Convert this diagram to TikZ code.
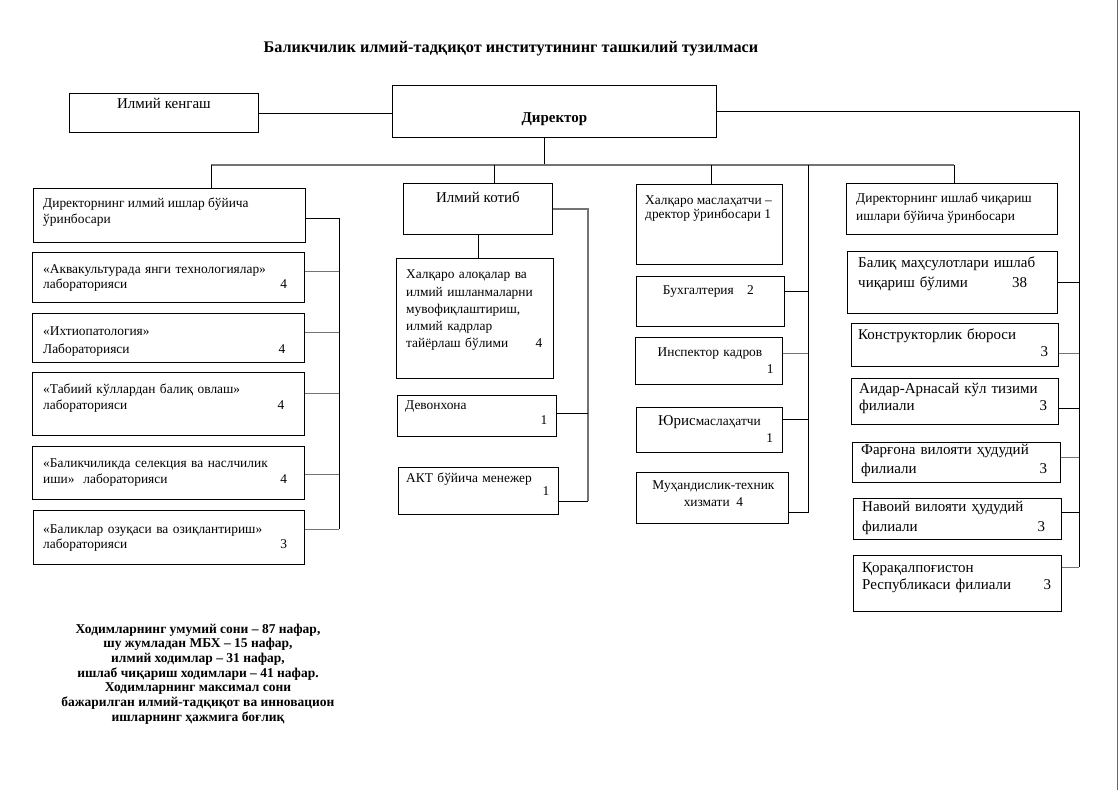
\documentclass[tikz,border=0pt]{standalone}
\usepackage{fontspec}
\setmainfont{Liberation Serif}
\begin{document}
\begin{tikzpicture}[x=1pt,y=-1pt,
    box/.style={draw, line width=0.9pt, inner sep=0pt, anchor=north west},
    txt/.style={anchor=north west, inner sep=0pt, align=left, font=\fontsize{13.4}{#1}\selectfont},
    txt/.default=16,
    rtxt/.style={txt, font=\fontsize{15}{#1}\selectfont},
    ctxt/.style={anchor=north, inner sep=0pt, align=center, font=\fontsize{13.4}{#1}\selectfont},
    ctxt/.default=17,
    link/.style={line width=0.9pt},
    glink/.style={line width=1.1pt, black!55}]
    \useasboundingbox (0,0) rectangle (1119,790);
    \draw[black!60, line width=0.8pt] (1117,0) -- (1117,790);

    % title
    \node[font=\fontsize{16.2}{19}\selectfont\bfseries] (title) at (511,49) {Баликчилик илмий-тадқиқот институтининг ташкилий тузилмаси};

    % top row
    \node[box, minimum width=189, minimum height=39] (ik) at (69,93) {};
    \node[ctxt, font=\fontsize{15}{18}\selectfont] (ik-t) at ([yshift=-5pt]ik.north) {Илмий кенгаш};
    \node[box, minimum width=324, minimum height=52] (dir) at (392,85) {};
    \node[font=\fontsize{15}{17}\selectfont\bfseries] (dir-t) at ([yshift=-8pt]dir.center) {Директор};

    % column 1
    \node[box, minimum width=272, minimum height=54] (d1) at (33,188) {};
    \node[txt] (d1-t) at ([shift={(10pt,-10pt)}]d1.north west) {Директорнинг илмий ишлар бўйича\\ўринбосари};
    \node[box, minimum width=272, minimum height=50] (lab1) at (32,252) {};
    \node[txt=15.5, text width=244] (lab1-t) at ([shift={(11pt,-12pt)}]lab1.north west) {«Аквакультурада янги технологиялар»\\лабораторияси\hfill 4};
    \node[box, minimum width=272, minimum height=49] (lab2) at (32,313) {};
    \node[txt=18, text width=242] (lab2-t) at ([shift={(11pt,-14pt)}]lab2.north west) {«Ихтиопатология»\\Лабораторияси\hfill 4};
    \node[box, minimum width=272, minimum height=63] (lab3) at (32,372) {};
    \node[txt=15.5, text width=241] (lab3-t) at ([shift={(11pt,-12pt)}]lab3.north west) {«Табиий кўллардан балиқ овлаш»\\лабораторияси\hfill 4};
    \node[box, minimum width=272, minimum height=53] (lab4) at (32,446) {};
    \node[txt=15.5, text width=244] (lab4-t) at ([shift={(11pt,-13pt)}]lab4.north west) {«Баликчиликда селекция ва наслчилик\\иши» \ лабораторияси\hfill 4};
    \node[box, minimum width=271, minimum height=54] (lab5) at (33,510) {};
    \node[txt=15, text width=244] (lab5-t) at ([shift={(10pt,-15pt)}]lab5.north west) {«Баликлар озуқаси ва озиқлантириш»\\лабораторияси\hfill 3};

    % column 2
    \node[box, minimum width=149, minimum height=51] (kotib) at (403,183) {};
    \node[ctxt, font=\fontsize{15}{18}\selectfont] (kotib-t) at ([yshift=-9pt]kotib.north) {Илмий котиб};
    \node[box, minimum width=157, minimum height=120] (ha) at (396,258) {};
    \node[txt=17.25, text width=136] (ha-t) at ([shift={(10pt,-12pt)}]ha.north west) {Халқаро алоқалар ва\\илмий ишланмаларни\\мувофиқлаштириш,\\илмий кадрлар\\тайёрлаш бўлими\hfill 4};
    \node[box, minimum width=159, minimum height=41] (dev) at (397,395) {};
    \node[txt=15, text width=142] (dev-t) at ([shift={(8pt,-6pt)}]dev.north west) {Девонхона\\\hfill 1};
    \node[box, minimum width=160, minimum height=47] (akt) at (398,467) {};
    \node[txt=13.5, text width=143] (akt-t) at ([shift={(8pt,-5.5pt)}]akt.north west) {АКТ бўйича менежер\\\hfill 1};

    % column 3
    \node[box, minimum width=146, minimum height=80] (hm) at (636,184) {};
    \node[txt=14] (hm-t) at ([shift={(9pt,-12pt)}]hm.north west) {Халқаро маслаҳатчи –\\дректор ўринбосари 1};
    \node[box, minimum width=148, minimum height=50] (bux) at (636,276) {};
    \node[ctxt] (bux-t) at ([shift={(-2pt,-9pt)}]bux.north) {Бухгалтерия\quad 2};
    \node[box, minimum width=147, minimum height=47] (insp) at (635,337) {};
    \node[ctxt, text width=127] (insp-t) at ([shift={(1pt,-11pt)}]insp.north) {Инспектор кадров\\\hfill 1};
    \node[box, minimum width=146, minimum height=45] (yur) at (636,407) {};
    \node[ctxt, text width=127] (yur-t) at ([shift={(0pt,-8pt)}]yur.north) {{\fontsize{15}{17}\selectfont Юрис}маслаҳатчи\\\hfill 1};
    \node[box, minimum width=152, minimum height=51] (muh) at (636,472) {};
    \node[ctxt] (muh-t) at ([shift={(1pt,-9pt)}]muh.north) {Муҳандислик-техник\\хизмати \ 4};

    % column 4
    \node[box, minimum width=211, minimum height=51] (d4) at (846,183) {};
    \node[txt=18] (d4-t) at ([shift={(10pt,-10pt)}]d4.north west) {Директорнинг ишлаб чиқариш\\ишлари бўйича ўринбосари};
    \node[box, minimum width=210, minimum height=62] (bm) at (847,251) {};
    \node[rtxt=20, text width=178] (bm-t) at ([shift={(11pt,-6pt)}]bm.north west) {Балиқ маҳсулотлари ишлаб\\чиқариш бўлими\hfill 38\rule{9pt}{0pt}};
    \node[box, minimum width=207, minimum height=43] (kb) at (851,323) {};
    \node[rtxt=17, text width=190] (kb-t) at ([shift={(7pt,-6pt)}]kb.north west) {Конструкторлик бюроси\\\hfill 3};
    \node[box, minimum width=207, minimum height=46] (aa) at (851,378) {};
    \node[rtxt=17, text width=188] (aa-t) at ([shift={(8pt,-5pt)}]aa.north west) {Аидар-Арнасай кўл тизими\\филиали\hfill 3};
    \node[box, minimum width=208, minimum height=40] (fv) at (852,442) {};
    \node[rtxt=19, text width=186] (fv-t) at ([shift={(9pt,-2pt)}]fv.north west) {Фарғона вилояти ҳудудий\\филиали\hfill 3};
    \node[box, minimum width=208, minimum height=41] (nv) at (853,498) {};
    \node[rtxt=20, text width=183] (nv-t) at ([shift={(9pt,-3.5pt)}]nv.north west) {Навоий вилояти ҳудудий\\филиали\hfill 3};
    \node[box, minimum width=208, minimum height=56] (qr) at (853,555) {};
    \node[rtxt=17, text width=189] (qr-t) at ([shift={(9pt,-7pt)}]qr.north west) {Қорақалпоғистон\\Республикаси филиали\hfill 3};

    % note
    \node[align=center, font=\fontsize{13.5}{14.7}\selectfont\bfseries] (note) at (198,674) {Ходимларнинг умумий сони – 87 нафар,\\шу жумладан МБХ – 15 нафар,\\илмий ходимлар – 31 нафар,\\ишлаб чиқариш ходимлари – 41 нафар.\\Ходимларнинг максимал сони\\бажарилган илмий-тадқиқот ва инновацион\\ишларнинг ҳажмига боғлиқ};

    % buses
    \coordinate (busL) at (211,165);
    \coordinate (busR) at (954,165);
    \coordinate (lbus) at (339,0);
    \coordinate (kbus) at (588,0);
    \coordinate (mbus) at (808,0);
    \coordinate (rbus) at (1079,0);

    \draw[link] (ik.east) -- (ik.east -| dir.west);
    \draw[link] ([xshift=-10pt]dir.south) -- ([xshift=-10pt]dir.south |- busL);
    \draw[glink] (busL) -- (busR);
    \draw[link] (busL) -- (busL |- d1.north);
    \draw[link] ([xshift=16pt]kotib.north |- busL) -- ([xshift=16pt]kotib.north);
    \draw[link] ([xshift=2pt]hm.north |- busL) -- ([xshift=2pt]hm.north);
    \draw[link] (busR) -- (busR |- d4.north);

    % left branch
    \draw[link] ([yshift=-3pt]d1.east) -- ([yshift=-3pt]d1.east -| lbus) -- ([yshift=8pt]lab5.east -| lbus);
    \draw[glink] ([yshift=6pt]lab1.east) -- ([yshift=6pt]lab1.east -| lbus);
    \draw[glink] ([yshift=5.5pt]lab2.east) -- ([yshift=5.5pt]lab2.east -| lbus);
    \draw[glink] ([yshift=10.5pt]lab3.east) -- ([yshift=10.5pt]lab3.east -| lbus);
    \draw[glink] ([yshift=-1.5pt]lab4.east) -- ([yshift=-1.5pt]lab4.east -| lbus);
    \draw[glink] ([yshift=8pt]lab5.east) -- ([yshift=8pt]lab5.east -| lbus);

    % secretary branch
    \draw[link] (kotib.south) -- (kotib.south |- ha.north);
    \draw[glink] (kotib.east) -- (kotib.east -| kbus) -- ([yshift=-10.5pt]akt.east -| kbus);
    \draw[link] ([yshift=2.5pt]dev.east) -- ([yshift=2.5pt]dev.east -| kbus);
    \draw[link] ([yshift=-10.5pt]akt.east) -- ([yshift=-10.5pt]akt.east -| kbus);

    % adviser branch
    \draw[link] (mbus |- busL) -- ([yshift=-14.5pt]muh.east -| mbus) -- ([yshift=-14.5pt]muh.east);
    \draw[link] ([yshift=10pt]bux.east) -- ([yshift=10pt]bux.east -| mbus);
    \draw[glink] ([yshift=7.5pt]insp.east) -- ([yshift=7.5pt]insp.east -| mbus);
    \draw[link] ([yshift=10.5pt]yur.east) -- ([yshift=10.5pt]yur.east -| mbus);

    % production branch
    \draw[link] (dir.east) -- (dir.east -| rbus) -- ([yshift=16pt]qr.east -| rbus);
    \draw[link] (bm.east) -- (bm.east -| rbus);
    \draw[glink] ([yshift=-8.5pt]kb.east) -- ([yshift=-8.5pt]kb.east -| rbus);
    \draw[link] ([yshift=-7pt]aa.east) -- ([yshift=-7pt]aa.east -| rbus);
    \draw[glink] ([yshift=5pt]fv.east) -- ([yshift=5pt]fv.east -| rbus);
    \draw[link] ([yshift=6.5pt]nv.east) -- ([yshift=6.5pt]nv.east -| rbus);
    \draw[glink] ([yshift=16pt]qr.east) -- ([yshift=16pt]qr.east -| rbus);
\end{tikzpicture}
\end{document}
